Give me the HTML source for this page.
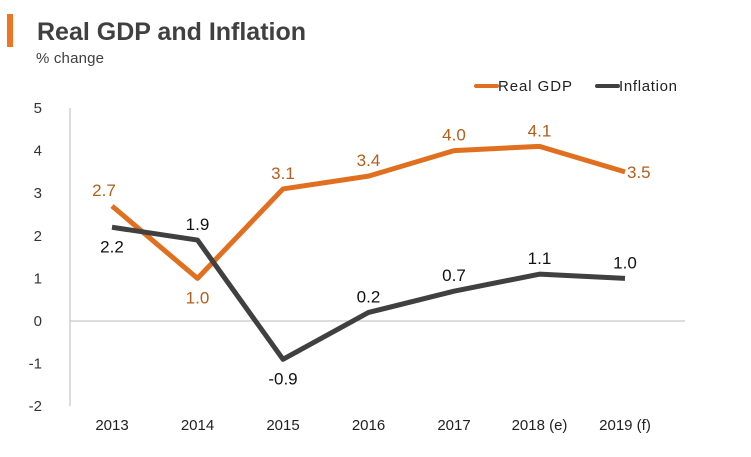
<!DOCTYPE html>
<html><head><meta charset="utf-8"><style>
body{margin:0;background:#fff;font-family:"Liberation Sans",sans-serif}
svg text{font-family:"Liberation Sans",sans-serif}
</style></head><body>
<svg width="751" height="452">
<rect x="7" y="14" width="6" height="33" fill="#ee7623"/>
<text x="37" y="40" font-size="25" font-weight="bold" fill="#404040">Real GDP and Inflation</text>
<text x="36" y="63" font-size="15" fill="#404040" textLength="68">% change</text>
<g>
<line x1="476" y1="86" x2="497" y2="86" stroke="#e07020" stroke-width="4" stroke-linecap="round"/>
<text x="498" y="91" font-size="15" fill="#222" textLength="74">Real GDP</text>
<line x1="597" y1="86" x2="618" y2="86" stroke="#404040" stroke-width="4" stroke-linecap="round"/>
<text x="619" y="91" font-size="15" fill="#222" textLength="58">Inflation</text>
</g>
<g id="axes"></g>
<g id="series"></g>
</svg>
<script>
const categories=["2013","2014","2015","2016","2017","2018 (e)","2019 (f)"];
const gdp=[2.7,1.0,3.1,3.4,4.0,4.1,3.5];
const inflation=[2.2,1.9,-0.9,0.2,0.7,1.1,1.0];
const yTicks=[5,4,3,2,1,0,-1,-2];
const gdpLabelPos=["left","below","above","above","above","above","right"];
const infLabelPos=["below","above","below","above","above","above","above"];
const NS="http://www.w3.org/2000/svg";
const x=i=>112+i*85.5;
const y=v=>321-v*42.6;
const axes=document.getElementById('axes'),series=document.getElementById('series');
function mk(tag,attrs,parent){const e=document.createElementNS(NS,tag);for(const k in attrs)e.setAttribute(k,attrs[k]);parent.appendChild(e);return e;}
let e=mk('line',{x1:70,y1:y(5),x2:70,y2:y(-2),stroke:'#bbb','stroke-width':1},axes);


e=mk('line',{x1:70,y1:y(0),x2:685,y2:y(0),stroke:'#bbb','stroke-width':1},axes);


yTicks.forEach(t=>{const el=mk('text',{x:42,y:y(t)+5,'font-size':15,fill:'#333','text-anchor':'end'},axes);el.textContent=t;

});
categories.forEach((c,i)=>{const el=mk('text',{x:x(i),y:430,'font-size':15,fill:'#222','text-anchor':'middle'},axes);el.textContent=c;

});
function draw(vals,color,labelColor,pos,name){
 const p=mk('polyline',{points:vals.map((v,i)=>x(i)+','+y(v)).join(' '),fill:'none',stroke:color,'stroke-width':5,'stroke-linejoin':'round'},series);
 
 
 vals.forEach((v,i)=>{let lx=x(i),ly=y(v),a='middle';
  if(pos[i]=='above')ly-=10;else if(pos[i]=='below')ly+=25;else if(pos[i]=='left'){lx-=8;ly-=10;}else{lx+=2;ly+=6;a='start';}
  const t=mk('text',{x:lx,y:ly,'font-size':17,fill:labelColor,'text-anchor':a},series);t.textContent=v.toFixed(1);
  
  });
}
draw(gdp,'#e07020','#b35e1c',gdpLabelPos,'gdp');
draw(inflation,'#404040','#111',infLabelPos,'inflation');
</script>
</body></html>
